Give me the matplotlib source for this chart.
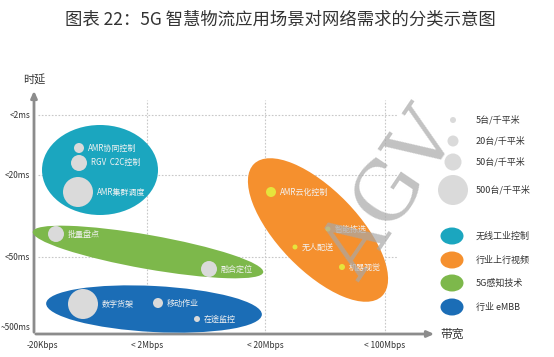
import matplotlib
matplotlib.use("Agg")
import matplotlib.pyplot as plt
from matplotlib.patches import Ellipse, Circle

plt.rcParams['font.family'] = ['Noto Sans CJK SC', 'DejaVu Sans']

title = "图表 22：5G 智慧物流应用场景对网络需求的分类示意图"

# axis ticks (chart units)
x_tick_pos = [8, 113, 231, 351]
x_tick_labels = ["-20Kbps", "< 2Mbps", "< 20Mbps", "< 100Mbps"]
y_tick_pos = [219, 159, 77, 6]
y_tick_labels = ["<2ms", "<20ms", "<50ms", "~500ms"]

# categories (groups)
groups = ["无线工业控制", "行业上行视频", "5G感知技术", "行业 eMBB"]
group_colors = ["#1BA6BF", "#F5902E", "#7DB84B", "#1B6DB6"]
# group ellipse: center x, center y, width, height, angle
grp_cx = [66, 284, 114, 120]
grp_cy = [164, 104, 82, 25]
grp_w = [116, 184, 234, 216]
grp_h = [90, 80, 34, 46]
grp_ang = [0, -46, -10, -3]

# scenarios
scen_names = ["AMR协同控制", "RGV  C2C控制", "AMR集群调度",
              "AMR云化控制", "智能拣选", "无人配送", "机器视觉",
              "批量盘点", "融合定位",
              "数字货架", "移动作业", "在途监控"]
scen_group = [0, 0, 0, 1, 1, 1, 1, 2, 2, 3, 3, 3]
scen_x = [45, 45, 44, 237, 294, 261, 308, 22, 175, 49, 124, 163]
scen_y = [186, 171, 142, 142, 105, 87, 67, 100, 65, 30, 31, 15]
scen_r = [5, 8, 15, 5, 2.5, 2.5, 3, 8, 8, 15, 5, 3]

# density legend
dens_labels = ["5台/千平米", "20台/千平米", "50台/千平米", "500台/千平米"]
dens_r = [3, 5.5, 8.5, 15]

fig = plt.figure(figsize=(5.54, 3.57), dpi=100)
ax = fig.add_axes([34/554, (357-334)/357, 401/554, 244/357])
ax.set_xlim(0, 401)
ax.set_ylim(0, 244)
ax.axis('off')

axis_col = "#8C8C8C"
grid_col = "#C8C8C8"

# grid
for xp in x_tick_pos[1:]:
    ax.plot([xp, xp], [0, 234], ls=(0, (1.5, 1.5)), color=grid_col, lw=0.8, zorder=1)
for yp in y_tick_pos[:-1]:
    ax.plot([4, 364], [yp, yp], ls=(0, (1.5, 1.5)), color=grid_col, lw=0.8, zorder=1)

# axes arrows
ax.annotate("", xy=(0, 246), xytext=(0, -1),
            arrowprops=dict(arrowstyle="-|>,head_width=0.18,head_length=0.4", color=axis_col, lw=2),
            annotation_clip=False, zorder=2)
ax.annotate("", xy=(403, 0), xytext=(-1, 0),
            arrowprops=dict(arrowstyle="-|>,head_width=0.18,head_length=0.4", color=axis_col, lw=2),
            annotation_clip=False, zorder=2)

for xp, lab in zip(x_tick_pos, x_tick_labels):
    ax.text(xp, -11, lab, ha='center', va='center', fontsize=6,
            color="#333333", clip_on=False)
for yp, lab in zip(y_tick_pos, y_tick_labels):
    ax.text(-4, yp, lab, ha='right', va='center', fontsize=6, color="#333333", clip_on=False)

ax.text(0, 254, "时延", ha='center', va='center', fontsize=8, color="#333333", clip_on=False)
ax.text(418, 0, "带宽", ha='center', va='center', fontsize=8.5, color="#333333", clip_on=False)

# group ellipses
for i in range(len(groups)):
    e = Ellipse((grp_cx[i], grp_cy[i]), grp_w[i], grp_h[i], angle=grp_ang[i],
                facecolor=group_colors[i], edgecolor='none', zorder=3, clip_on=False)
    ax.add_patch(e)

# scenario bubbles
for i, name in enumerate(scen_names):
    g = scen_group[i]
    bc = "#E6E43C" if g == 1 else "#DADADA"
    ax.add_patch(Circle((scen_x[i], scen_y[i]), scen_r[i], facecolor=bc, edgecolor='none',
                        zorder=4, clip_on=False))
    ax.text(scen_x[i] + scen_r[i] + 4, scen_y[i], name, ha='left', va='center',
            fontsize=5.8, color="#F2F2F2", zorder=5)

# density legend
dens_y = [214, 193, 172, 144]
for yy, r, lab in zip(dens_y, dens_r, dens_labels):
    ax.add_patch(Circle((419, yy), r, facecolor="#DADADA", edgecolor='none', clip_on=False, zorder=3))
    ax.text(442, yy, lab, ha='left', va='center', fontsize=6.5, color="#333333", clip_on=False)

# group legend
leg_y = [98, 74, 51, 27]
for yy, col, lab in zip(leg_y, group_colors, groups):
    ax.add_patch(Ellipse((418, yy), 23, 17, facecolor=col, edgecolor='none', clip_on=False, zorder=3))
    ax.text(442, yy, lab, ha='left', va='center', fontsize=6.5, color="#333333", clip_on=False)

# watermark
fig.text(392/554, 1 - 195/357, "AGV", family="DejaVu Serif", fontsize=58, color="#A8A8A8",
         alpha=0.7, rotation=56, ha='center', va='center', zorder=10)

fig.text(280/554, 1 - 20/357, title, ha='center', va='center', fontsize=12.5, color="#333333")

fig.savefig("out.png", dpi=100)
